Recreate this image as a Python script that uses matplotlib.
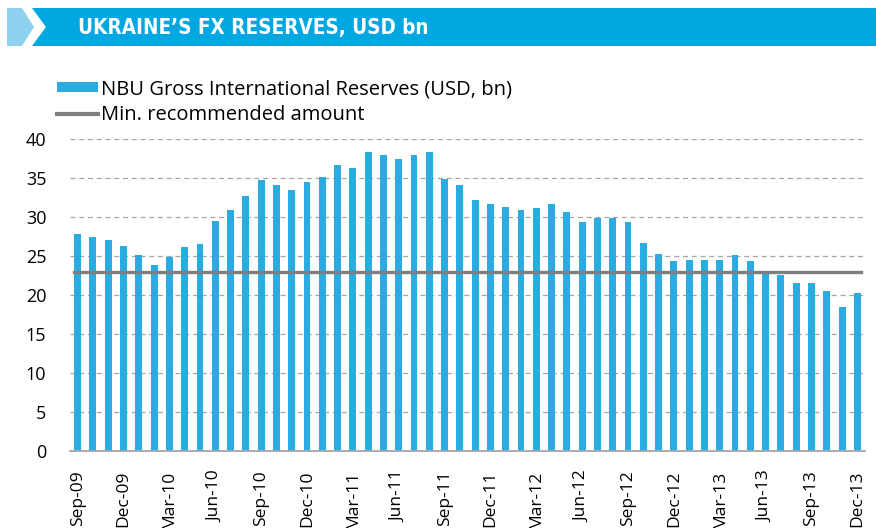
"""Ukraine FX reserves: NBU gross international reserves vs minimum recommended amount."""

import matplotlib
matplotlib.use("Agg")
import matplotlib.pyplot as plt
from matplotlib.patches import Polygon, Patch
from matplotlib.lines import Line2D

W, H = 876, 528

months = [
    "Sep-09", "Oct-09", "Nov-09", "Dec-09", "Jan-10", "Feb-10", "Mar-10", "Apr-10",
    "May-10", "Jun-10", "Jul-10", "Aug-10", "Sep-10", "Oct-10", "Nov-10", "Dec-10",
    "Jan-11", "Feb-11", "Mar-11", "Apr-11", "May-11", "Jun-11", "Jul-11", "Aug-11",
    "Sep-11", "Oct-11", "Nov-11", "Dec-11", "Jan-12", "Feb-12", "Mar-12", "Apr-12",
    "May-12", "Jun-12", "Jul-12", "Aug-12", "Sep-12", "Oct-12", "Nov-12", "Dec-12",
    "Jan-13", "Feb-13", "Mar-13", "Apr-13", "May-13", "Jun-13", "Jul-13", "Aug-13",
    "Sep-13", "Oct-13", "Nov-13", "Dec-13",
]
reserves = [
    27.8, 27.45, 27.1, 26.25, 25.1, 23.9, 24.9, 26.1, 26.5, 29.5, 30.9, 32.7,
    34.7, 34.05, 33.5, 34.5, 35.1, 36.7, 36.25, 38.3, 37.9, 37.45, 37.9, 38.3,
    34.9, 34.05, 32.2, 31.7, 31.3, 30.9, 31.1, 31.7, 30.7, 29.3, 29.9, 29.9,
    29.3, 26.7, 25.3, 24.3, 24.5, 24.5, 24.5, 25.1, 24.3, 23.1, 22.55, 21.5,
    21.5, 20.5, 18.5, 20.3,
]
min_recommended = 22.9

tick_labels = months[::3]
y_ticks = [0, 5, 10, 15, 20, 25, 30, 35, 40]

BAR_COLOR = "#2AACE2"
LINE_COLOR = "#7F7F7F"
BANNER_BLUE = "#00A7E1"
BANNER_LIGHT = "#8ED0F0"
FONT = "Open Sans"


def fx(px):
    return px / W


def fy(py):
    return 1 - py / H


fig = plt.figure(figsize=(W / 100, H / 100), dpi=100)

# title banner
fig.patches.append(Polygon(
    [(fx(7), fy(8)), (fx(22), fy(8)), (fx(34), fy(27)), (fx(22), fy(46)), (fx(7), fy(46))],
    closed=True, transform=fig.transFigure, facecolor=BANNER_LIGHT, edgecolor="none"))
fig.patches.append(Polygon(
    [(fx(32), fy(8)), (fx(876), fy(8)), (fx(876), fy(46)), (fx(32), fy(46)), (fx(46), fy(27))],
    closed=True, transform=fig.transFigure, facecolor=BANNER_BLUE, edgecolor="none"))
fig.text(fx(78), fy(28), "UKRAINE\u2019S FX RESERVES, USD bn", color="white",
         fontsize=14.8, fontweight="bold", fontstretch="condensed", va="center", ha="left",
         family=["DejaVu Sans"])

ax = fig.add_axes([fx(70), fy(451), fx(865) - fx(70), fy(139) - fy(451)])

x = list(range(len(months)))
ax.bar(x, reserves, width=0.45, color=BAR_COLOR, zorder=2)
ax.axhline(min_recommended, xmin=0.005, xmax=0.995, color=LINE_COLOR, lw=2.4, zorder=3)

ax.set_xlim(-0.5, len(months) - 0.5)
ax.set_ylim(0, 40)
ax.set_yticks(y_ticks)
ax.set_xticks(x[::3])
ax.set_xticklabels(tick_labels, rotation=90, fontsize=12.5, family=FONT)
ax.tick_params(axis="x", length=0, pad=14)
ax.tick_params(axis="y", length=0, pad=17, labelsize=13)
for lbl in ax.get_yticklabels():
    lbl.set_family(FONT)

ax.yaxis.grid(True, linestyle=(0, (4, 3)), color="#A6A6A6", lw=0.9, zorder=0)
for side in ["top", "right", "left"]:
    ax.spines[side].set_visible(False)
ax.spines["bottom"].set_color("#A6A6A6")
ax.spines["bottom"].set_linewidth(1.3)

handles = [
    Patch(facecolor=BAR_COLOR, edgecolor="none"),
    Line2D([0], [0], color=LINE_COLOR, lw=3),
]
labels = ["NBU Gross International Reserves (USD, bn)", "Min. recommended amount"]
fig.legend(handles, labels, loc="upper left", bbox_to_anchor=(fx(43), fy(65)),
           frameon=False, prop={"family": FONT, "size": 14.5},
           handlelength=2.05, handleheight=0.4, handletextpad=0.15,
           labelspacing=0.28, borderpad=0.2)

fig.savefig("out.png", dpi=100)
